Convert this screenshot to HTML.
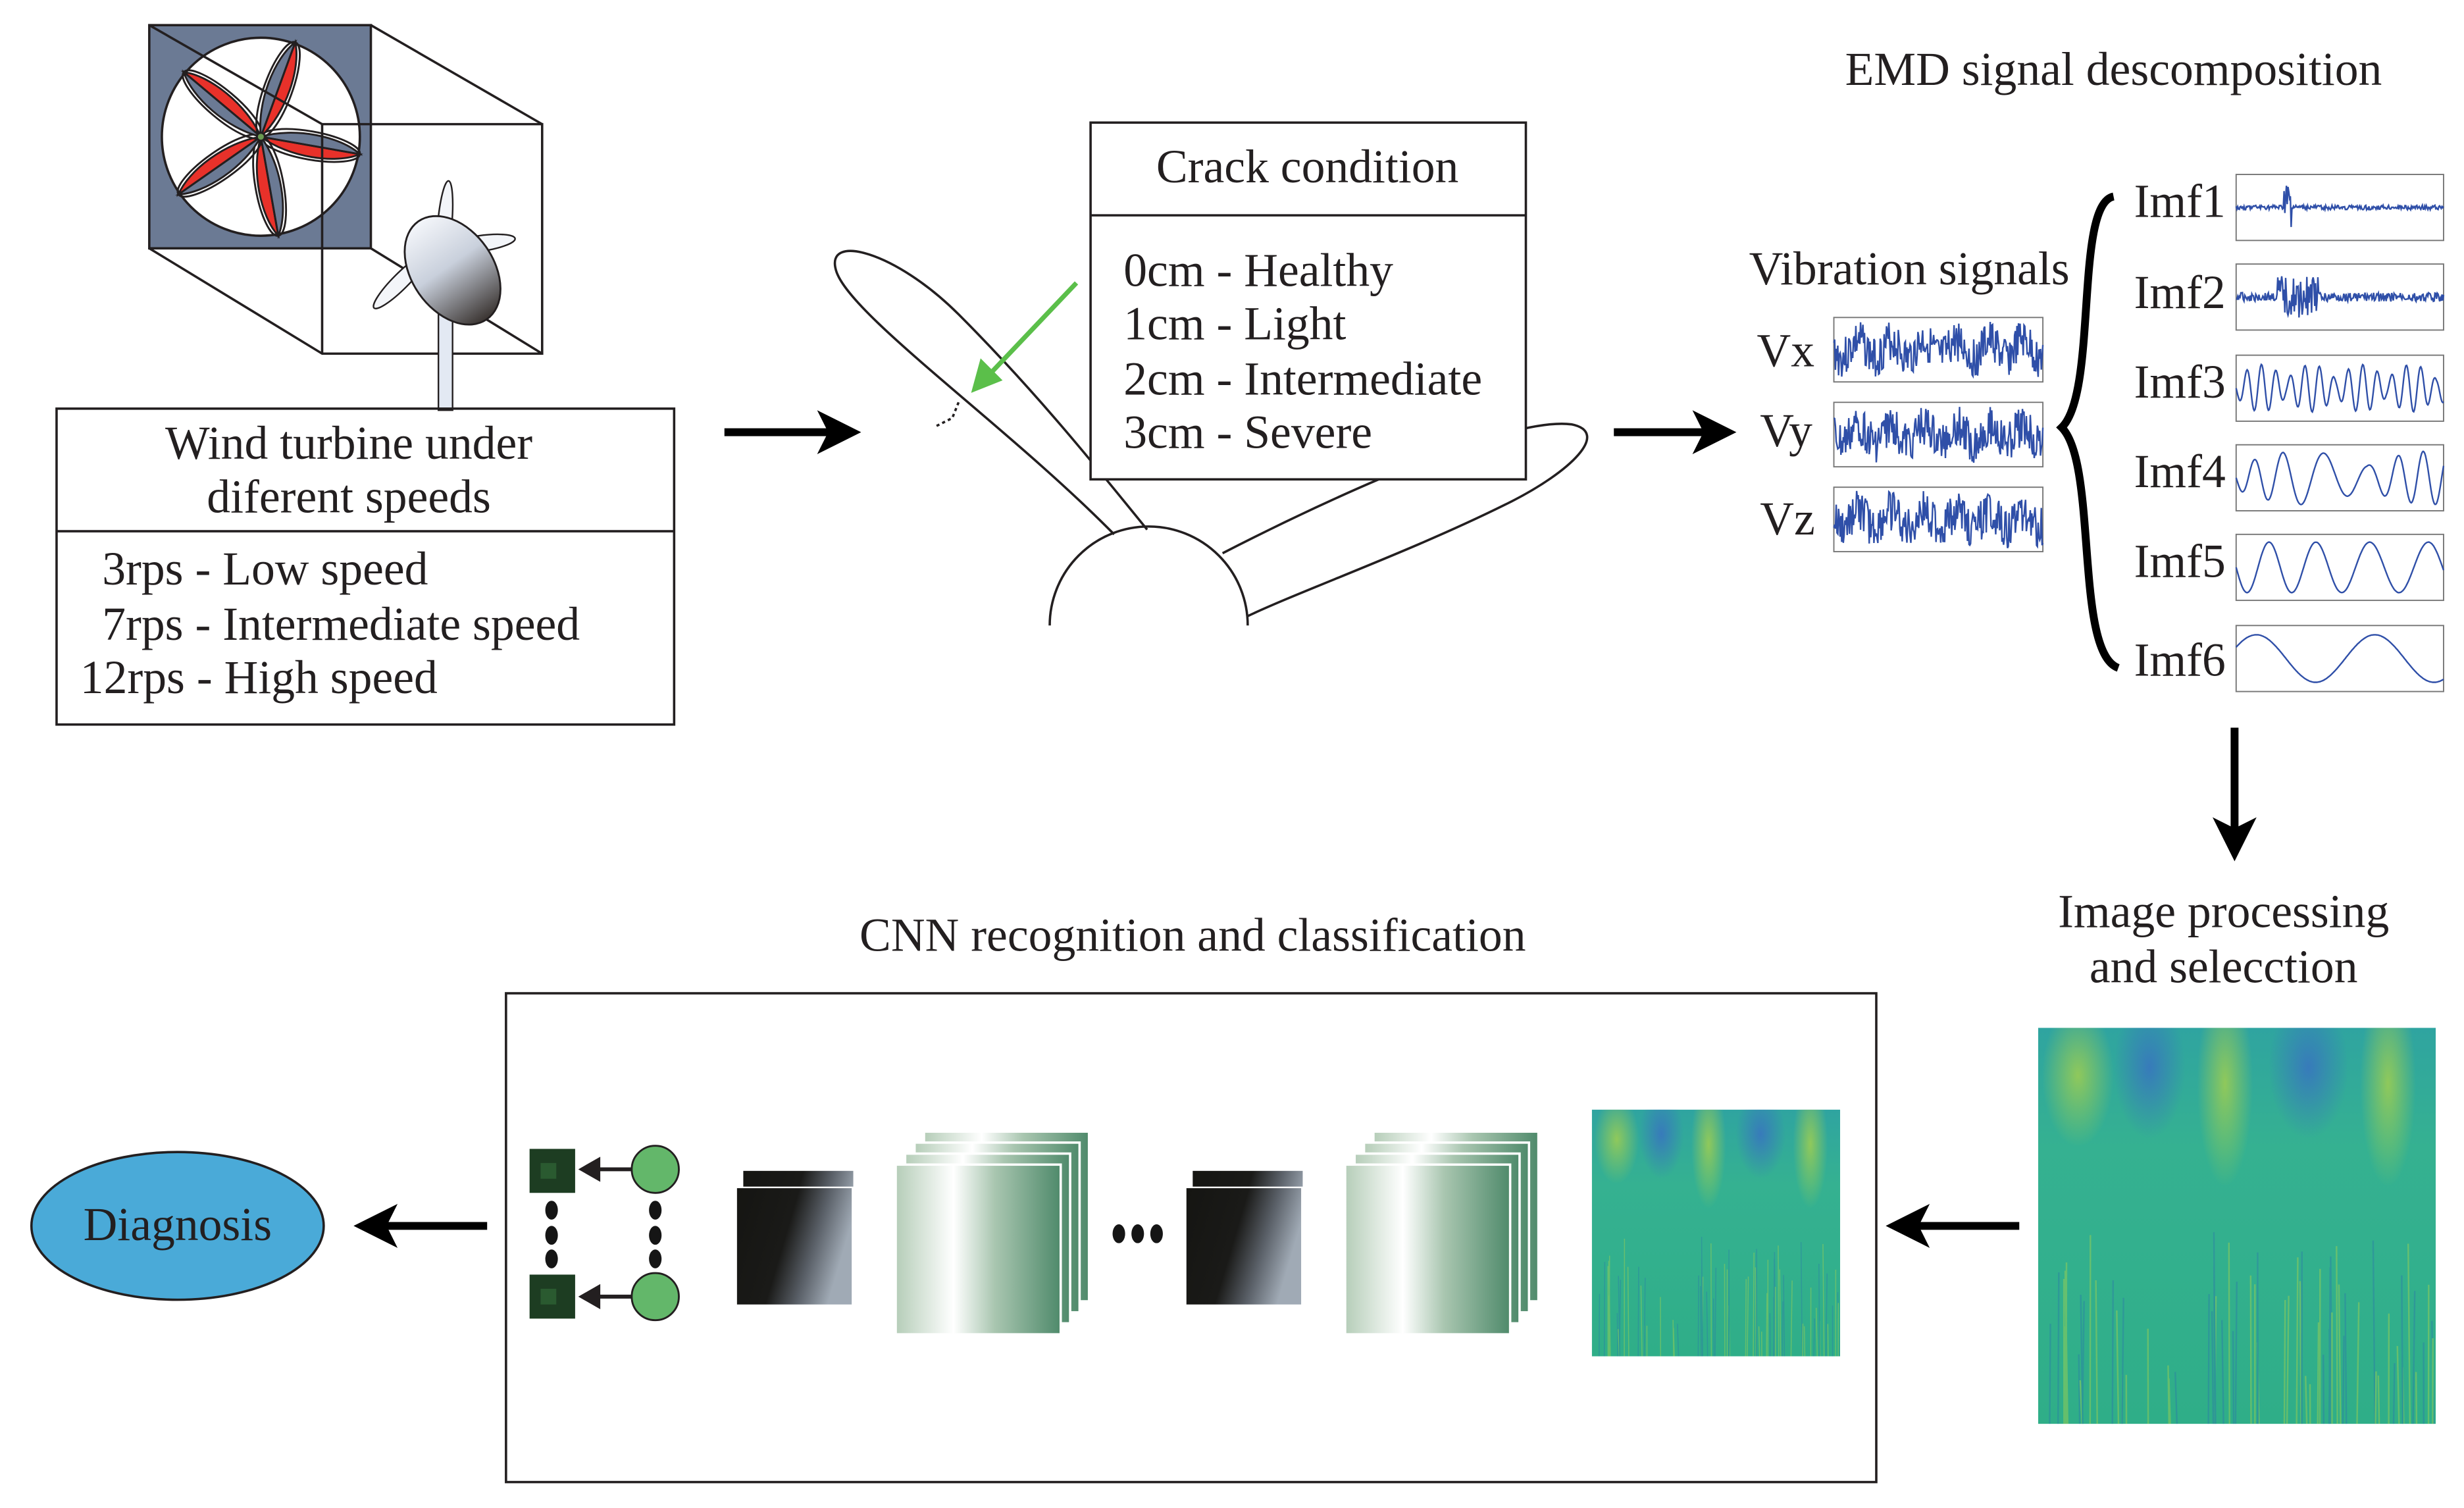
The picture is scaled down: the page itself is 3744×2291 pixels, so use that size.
<!DOCTYPE html>
<html><head><meta charset="utf-8"><style>
html,body{margin:0;padding:0;background:#fff;}
svg{display:block;}
text{font-family:"Liberation Serif",serif;fill:#231f20;}
</style></head><body>
<svg id="s" width="3744" height="2291" viewBox="0 0 1568 959.5" preserveAspectRatio="none" xmlns="http://www.w3.org/2000/svg">
<defs>
<linearGradient id="nac" x1="0" y1="0" x2="0" y2="1"><stop offset="0" stop-color="#f4f6fa"/><stop offset="0.45" stop-color="#c9d0dc"/><stop offset="1" stop-color="#3a3431"/></linearGradient>
<linearGradient id="blk" x1="0" y1="0" x2="1" y2="0.3"><stop offset="0" stop-color="#151512"/><stop offset="0.5" stop-color="#1a1a18"/><stop offset="0.75" stop-color="#5a6068"/><stop offset="1" stop-color="#a0aab5"/></linearGradient>
<linearGradient id="grn" x1="0" y1="0" x2="1" y2="0"><stop offset="0" stop-color="#b5cdb8"/><stop offset="0.35" stop-color="#ffffff"/><stop offset="0.6" stop-color="#a9c6b0"/><stop offset="1" stop-color="#4f8a6b"/></linearGradient>
<linearGradient id="scbg" x1="0" y1="0" x2="0" y2="1"><stop offset="0" stop-color="#2fa4a0"/><stop offset="0.3" stop-color="#35b191"/><stop offset="1" stop-color="#2fae88"/></linearGradient>
<radialGradient id="blue"><stop offset="0" stop-color="#3a67c8" stop-opacity="0.7"/><stop offset="1" stop-color="#3a67c8" stop-opacity="0"/></radialGradient>
<radialGradient id="yel"><stop offset="0" stop-color="#b8d640" stop-opacity="0.7"/><stop offset="1" stop-color="#b8d640" stop-opacity="0"/></radialGradient>
<symbol id="scal" viewBox="0 0 100 100" preserveAspectRatio="none">
<rect width="100" height="100" fill="url(#scbg)"/>
<ellipse cx="10" cy="12" rx="9" ry="18" fill="url(#yel)"/>
<ellipse cx="28" cy="10" rx="9" ry="18" fill="url(#blue)"/>
<ellipse cx="47" cy="14" rx="7" ry="26" fill="url(#yel)"/>
<ellipse cx="68" cy="10" rx="10" ry="18" fill="url(#blue)"/>
<ellipse cx="88" cy="14" rx="7" ry="26" fill="url(#yel)"/>
<g id="streaks" stroke-width="0.4" opacity="0.35"></g>
</symbol>
</defs>

<rect x="95" y="16" width="141" height="142" fill="#6b7a94" stroke="#231f20" stroke-width="1.5"/>
<circle cx="166" cy="87" r="63" fill="#fff" stroke="#231f20" stroke-width="1.5"/>
<g stroke="#231f20" stroke-width="1.2" id="blades"></g>
<g fill="none" stroke="#231f20" stroke-width="1.5">
<polyline points="95,16 205,79 345,79 345,225 205,225 95,158"/>
<line x1="236" y1="16" x2="345" y2="79"/>
<line x1="205" y1="79" x2="205" y2="225"/>
<line x1="236" y1="158" x2="345" y2="225"/>
</g>
<rect x="279" y="188" width="9" height="73" fill="#e3e9f3" stroke="#231f20" stroke-width="1"/>
<g fill="#f3f5f9" stroke="#231f20" stroke-width="1">
<ellipse cx="0" cy="0" rx="4.5" ry="28" transform="translate(283,143) rotate(5)"/>
<ellipse cx="0" cy="0" rx="5" ry="23" transform="translate(305,155) rotate(82)"/>
<ellipse cx="0" cy="0" rx="5" ry="24" transform="translate(255,179) rotate(45)"/>
</g>
<ellipse cx="288" cy="172" rx="26" ry="38" transform="rotate(-35 288 172)" fill="url(#nac)" stroke="#231f20" stroke-width="1.2"/>

<rect x="36" y="260" width="393" height="201" fill="none" stroke="#231f20" stroke-width="1.5"/>
<line x1="36" y1="338" x2="429" y2="338" stroke="#231f20" stroke-width="1.5"/>
<g font-size="30">
<text x="222" y="292" text-anchor="middle">Wind turbine under</text>
<text x="222" y="326" text-anchor="middle">diferent speeds</text>
<text x="65" y="372">3rps - Low speed</text>
<text x="65" y="407">7rps - Intermediate speed</text>
<text x="51" y="441">12rps - High speed</text>
</g>

<line x1="461" y1="275" x2="535" y2="275" stroke="#000" stroke-width="5"/>
<path d="M548,275 L520,261 L527,275 L520,289 Z" fill="#000"/>

<g fill="none" stroke="#231f20" stroke-width="1.5">
<path d="M709,340 C 640,270 540,200 532,172 C 525,148 570,160 610,200 C 660,250 700,300 730,337"/>
<path d="M778,352 C 850,315 960,265 1000,270 C 1025,275 1000,300 960,320 C 900,350 830,375 794,392"/>
<path d="M668,398 A63,63 0 0 1 794,398"/>
<path d="M596,271 L606,266 L610,256" stroke-dasharray="2,2"/>
</g>
<line x1="685" y1="180" x2="628" y2="240" stroke="#5bbf4a" stroke-width="3"/>
<path d="M618,250 L624,228 L638,242 Z" fill="#5bbf4a"/>

<rect x="694" y="78" width="277" height="227" fill="#fff" stroke="#231f20" stroke-width="1.5"/>
<line x1="694" y1="137" x2="971" y2="137" stroke="#231f20" stroke-width="1.5"/>
<g font-size="30">
<text x="832" y="116" text-anchor="middle">Crack condition</text>
<text x="715" y="182">0cm - Healthy</text>
<text x="715" y="216">1cm - Light</text>
<text x="715" y="251">2cm - Intermediate</text>
<text x="715" y="285">3cm - Severe</text>
</g>

<line x1="1027" y1="275" x2="1092" y2="275" stroke="#000" stroke-width="5"/>
<path d="M1105,275 L1077,261 L1084,275 L1077,289 Z" fill="#000"/>

<g font-size="30">
<text x="1345" y="54" text-anchor="middle">EMD signal descomposition</text>
<text x="1215" y="181" text-anchor="middle">Vibration signals</text>
<text x="1118" y="233">Vx</text>
<text x="1120" y="284">Vy</text>
<text x="1120" y="340">Vz</text>
<text x="1358" y="138">Imf1</text>
<text x="1358" y="196">Imf2</text>
<text x="1358" y="253">Imf3</text>
<text x="1358" y="310">Imf4</text>
<text x="1358" y="367">Imf5</text>
<text x="1358" y="430">Imf6</text>
</g>
<g id="waves" fill="none" stroke="#2f4fa8" stroke-width="1"></g>
<path d="M1345,125 C1320,130 1335,250 1312,272 C1335,295 1320,415 1348,425" fill="none" stroke="#000" stroke-width="5"/>

<line x1="1422" y1="463" x2="1422" y2="530" stroke="#000" stroke-width="5"/>
<path d="M1422,548 L1408,520 L1422,527 L1436,520 Z" fill="#000"/>
<g font-size="30">
<text x="1415" y="590" text-anchor="middle">Image processing</text>
<text x="1415" y="625" text-anchor="middle">and selecction</text>
<text x="759" y="605" text-anchor="middle">CNN recognition and classification</text>
</g>
<use href="#scal" x="1297" y="654" width="253" height="252"/>

<line x1="1285" y1="780" x2="1214" y2="780" stroke="#000" stroke-width="5"/>
<path d="M1200,780 L1228,766 L1221,780 L1228,794 Z" fill="#000"/>

<rect x="322" y="632" width="872" height="311" fill="none" stroke="#231f20" stroke-width="1.5"/>
<use href="#scal" x="1013" y="706" width="158" height="157"/>
<g id="stacks"></g>
<rect x="337" y="731" width="29" height="28" fill="#1d3d22"/>
<rect x="337" y="811" width="29" height="28" fill="#1d3d22"/>
<rect x="344" y="740" width="10" height="10" fill="#2a5a30"/>
<rect x="344" y="820" width="10" height="10" fill="#2a5a30"/>
<circle cx="417" cy="744" r="15" fill="#63b76a" stroke="#231f20" stroke-width="1.2"/>
<circle cx="417" cy="825" r="15" fill="#63b76a" stroke="#231f20" stroke-width="1.2"/>
<line x1="402" y1="744" x2="380" y2="744" stroke="#231f20" stroke-width="2.5"/>
<path d="M368,744 L382,736 L382,752 Z" fill="#231f20"/>
<line x1="402" y1="825" x2="380" y2="825" stroke="#231f20" stroke-width="2.5"/>
<path d="M368,825 L382,817 L382,833 Z" fill="#231f20"/>
<g fill="#151515">
<ellipse cx="351" cy="770" rx="4" ry="6"/><ellipse cx="351" cy="786" rx="4" ry="6"/><ellipse cx="351" cy="801" rx="4" ry="6"/>
<ellipse cx="417" cy="770" rx="4" ry="6"/><ellipse cx="417" cy="786" rx="4" ry="6"/><ellipse cx="417" cy="801" rx="4" ry="6"/>
<ellipse cx="712" cy="785" rx="4" ry="6"/><ellipse cx="724" cy="785" rx="4" ry="6"/><ellipse cx="736" cy="785" rx="4" ry="6"/>
</g>

<line x1="310" y1="780" x2="240" y2="780" stroke="#000" stroke-width="5"/>
<path d="M225,780 L253,766 L246,780 L253,794 Z" fill="#000"/>
<ellipse cx="113" cy="780" rx="93" ry="47" fill="#4aaad8" stroke="#231f20" stroke-width="1.5"/>
<text x="113" y="789" font-size="30" text-anchor="middle">Diagnosis</text>
</svg>
<script>
var NS="http://www.w3.org/2000/svg";
function el(t,a,p){var e=document.createElementNS(NS,t);for(var k in a)e.setAttribute(k,a[k]);p.appendChild(e);return e;}
var bg=document.getElementById('blades');
[-80,-10,55,130,200].forEach(function(a,i){
 var g=el('g',{transform:'translate(166,87) rotate('+a+')'},bg);
 el('path',{d:'M0,0 C-10,20 -9,50 0,64 Z',fill:'#e8312a'},g);
 el('path',{d:'M0,0 C10,20 9,50 0,64 Z',fill:'#6b7a94'},g);
 el('ellipse',{cx:0,cy:32,rx:9,ry:32,fill:'none'},g);
 el('line',{x1:0,y1:0,x2:0,y2:64},g);
});
el('circle',{cx:166,cy:87,r:2.5,fill:'#6a9a50'},bg);
var wg=document.getElementById('waves');
var seed=3;function rnd(){seed=(seed*9301+49297)%233280;return seed/233280;}
function box(x,y,w,h){el('rect',{x:x,y:y,width:w,height:h,fill:'#fff',stroke:'#777','stroke-width':0.8},wg);}
function wave(x,y,w,h,f){var p=[];for(var i=0;i<=w;i+=0.5){p.push((x+i).toFixed(1)+','+(y+h/2+f(i/w,i)*h/2*0.9).toFixed(1));}el('polyline',{points:p.join(' ')},wg);}
[[202],[256],[310]].forEach(function(r){box(1167,r[0],133,41);wave(1167,r[0],133,41,function(t){return (rnd()-0.5)*1.4+0.3*Math.sin(t*40);});});
var ys=[111,168,226,283,340,398];
ys.forEach(function(y,k){box(1423,y,132,42);
 wave(1423,y,132,42,function(t){
  if(k==0)return (rnd()-0.5)*0.15+(Math.abs(t-0.25)<0.02?(rnd()-0.5)*1.6:0);
  if(k==1)return (rnd()-0.5)*(Math.abs(t-0.3)<0.1?1.4:0.3);
  if(k==2)return Math.sin(t*90)*(0.3+0.5*Math.abs(Math.sin(t*13)));
  if(k==3)return Math.sin(t*40+Math.sin(t*7)*2)*(0.4+0.5*Math.abs(Math.sin(t*5)));
  if(k==4)return Math.sin(t*26+Math.sin(t*4))*0.85;
  return -Math.sin(t*11+0.5)*0.8;});
});
var sg=document.getElementById('streaks');
for(var i=0;i<70;i++){var x=rnd()*100,c=rnd()<0.5?'#c8de3a':'#2a6fb0';el('line',{x1:x,y1:50+rnd()*40,x2:x+(rnd()-0.5),y2:100,stroke:c},sg);}
var st=document.getElementById('stacks');
function blackstack(x,y){el('rect',{x:x+4,y:y-10,width:70,height:75,fill:'url(#blk)'},st);el('rect',{x:x,y:y,width:75,height:75,fill:'#fff'},st);el('rect',{x:x,y:y+1,width:73,height:74,fill:'url(#blk)'},st);}
function greenstack(x,y){for(var k=3;k>=0;k--){var ox=x+k*6,oy=y-k*7;el('rect',{x:ox,y:oy,width:105,height:108,fill:'url(#grn)',stroke:'#fff','stroke-width':1.5},st);}}
blackstack(469,755);blackstack(755,755);
greenstack(570,741);greenstack(856,741);
</script>
</body></html>
